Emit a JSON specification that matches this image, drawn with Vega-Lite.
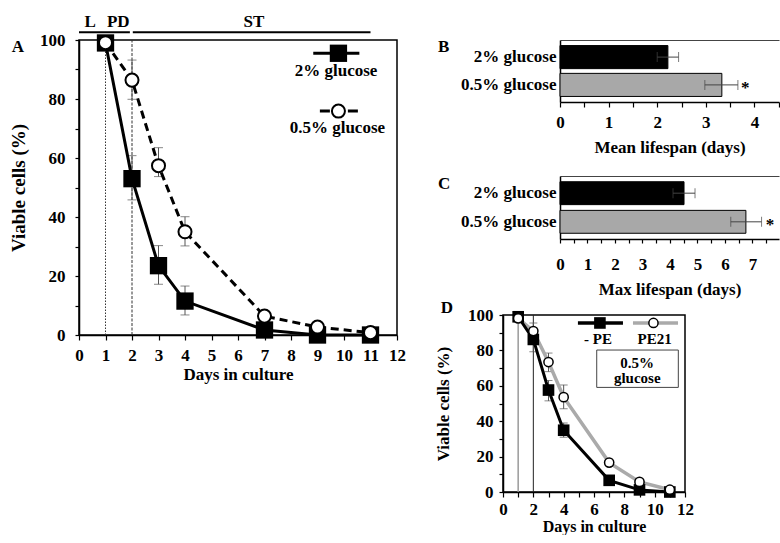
{
 "$schema": "https://vega.github.io/schema/vega-lite/v6.json",
 "background": "white",
 "padding": {"left": 8, "top": 12, "right": 0, "bottom": 0},
 "config": {
  "view": {"stroke": "black", "strokeWidth": 1.5},
  "axis": {"grid": false, "domainColor": "black", "domainWidth": 1.5, "tickColor": "black", "tickWidth": 1.2, "labelColor": "black", "titleColor": "black", "labelFont": "Liberation Serif", "titleFont": "Liberation Serif", "labelFontWeight": "bold", "titleFontWeight": "bold", "labelOverlap": false, "labelFlush": false},
  "text": {"font": "Liberation Serif", "fontWeight": "bold", "color": "black"}
 },
 "datasets": {
  "survA": [
   {"s": "2%", "x": 1, "y": 99}, {"s": "2%", "x": 2, "y": 53}, {"s": "2%", "x": 3, "y": 23.5}, {"s": "2%", "x": 4, "y": 11.5}, {"s": "2%", "x": 7, "y": 1.7}, {"s": "2%", "x": 9, "y": 0}, {"s": "2%", "x": 11, "y": 0},
   {"s": "0.5%", "x": 1, "y": 99.1}, {"s": "0.5%", "x": 2, "y": 86.4}, {"s": "0.5%", "x": 3, "y": 57.4}, {"s": "0.5%", "x": 4, "y": 35}, {"s": "0.5%", "x": 7, "y": 6.4}, {"s": "0.5%", "x": 9, "y": 2.7}, {"s": "0.5%", "x": 11, "y": 0.8}
  ],
  "errA": [
   {"s": "2%", "x": 2, "y": 45.8, "y2": 60.8}, {"s": "2%", "x": 3, "y": 17.2, "y2": 30.3}, {"s": "2%", "x": 4, "y": 6.8, "y2": 16.6},
   {"s": "0.5%", "x": 2, "y": 79.9, "y2": 93.2}, {"s": "0.5%", "x": 3, "y": 53.7, "y2": 63.5}, {"s": "0.5%", "x": 4, "y": 30.2, "y2": 40.1}
  ],
  "vlA": [{"x": 1, "y": 0, "y2": 100, "k": "a"}, {"x": 2, "y": 0, "y2": 100, "k": "b"}],
  "phA": [{"x": 0, "x2": 1.92, "y": 102.6}, {"x": 2.03, "x2": 11, "y": 102.6}],
  "txtA": [
   {"x": 0.42, "y": 106.1, "t": "L"}, {"x": 1.48, "y": 106.1, "t": "PD"}, {"x": 6.6, "y": 106.1, "t": "ST"},
   {"x": 9.7, "y": 89.5, "t": "2% glucose"}, {"x": 9.75, "y": 70.3, "t": "0.5% glucose"}
  ],
  "lblA": [{"x": -2.54, "y": 97.5, "t": "A"}],
  "legA": [{"s": "2%", "x": 8.84, "x2": 10.58, "y": 95.5}, {"s": "0.5%", "x": 9.09, "x2": 10.53, "y": 75.9}],
  "legPtA": [{"s": "2%", "x": 9.79, "y": 95.5}, {"s": "0.5%", "x": 9.79, "y": 75.9}],
  "barB": [
   {"g": "2% glucose", "v": 2.22, "lo": 2.0, "hi": 2.44},
   {"g": "0.5% glucose", "v": 3.33, "lo": 2.98, "hi": 3.66}
  ],
  "txtB": [{"g": "0.5% glucose", "v": 3.81, "t": "*"}],
  "lblB": [{"g": "2% glucose", "v": -2.51, "t": "B"}],
  "barC": [
   {"g": "2% glucose", "v": 4.51, "lo": 4.11, "hi": 4.91},
   {"g": "0.5% glucose", "v": 6.76, "lo": 6.21, "hi": 7.33}
  ],
  "txtC": [{"g": "0.5% glucose", "v": 7.64, "t": "*"}],
  "lblC": [{"g": "2% glucose", "v": -4.44, "t": "C"}],
  "survD": [
   {"s": "PE", "x": 1, "y": 99}, {"s": "PE", "x": 2, "y": 86.2}, {"s": "PE", "x": 3, "y": 57.6}, {"s": "PE", "x": 4, "y": 34.9}, {"s": "PE", "x": 7, "y": 6.6}, {"s": "PE", "x": 9, "y": 1.2}, {"s": "PE", "x": 11, "y": 0},
   {"s": "PE21", "x": 1, "y": 98.1}, {"s": "PE21", "x": 2, "y": 90.9}, {"s": "PE21", "x": 3, "y": 73.4}, {"s": "PE21", "x": 4, "y": 53.6}, {"s": "PE21", "x": 7, "y": 16.6}, {"s": "PE21", "x": 9, "y": 5.7}, {"s": "PE21", "x": 11, "y": 1.3}
  ],
  "errD": [
   {"s": "PE", "x": 2, "y": 79.2, "y2": 92.5}, {"s": "PE", "x": 3, "y": 51.5, "y2": 63}, {"s": "PE", "x": 4, "y": 31, "y2": 39},
   {"s": "PE21", "x": 2, "y": 86.5, "y2": 95.5}, {"s": "PE21", "x": 3, "y": 68, "y2": 78.5}, {"s": "PE21", "x": 4, "y": 47, "y2": 60.5}
  ],
  "vlD": [{"x": 1, "y": 0, "y2": 100, "k": "a"}, {"x": 2, "y": 0, "y2": 100, "k": "b"}],
  "legD": [{"s": "PE", "x": 4.94, "x2": 7.91, "y": 95.5}, {"s": "PE21", "x": 8.57, "x2": 11.54, "y": 95.5}],
  "legPtD": [{"s": "PE", "x": 6.39, "y": 95.5}, {"s": "PE21", "x": 9.92, "y": 95.5}],
  "boxD": [{"x": 6.18, "x2": 11.56, "y": 59.1, "y2": 80.2}],
  "txtD": [
   {"x": 6.26, "y": 86.4, "t": "- PE"}, {"x": 10.0, "y": 86.4, "t": "PE21"},
   {"x": 8.85, "y": 73.1, "t": "0.5%"}, {"x": 8.85, "y": 64.3, "t": "glucose"}
  ],
  "lblD": [{"x": -4.11, "y": 104.2, "t": "D"}]
 },
 "hconcat": [
  {
   "width": 318, "height": 295,
   "encoding": {
    "x": {"field": "x", "type": "quantitative", "scale": {"domain": [0, 12], "nice": false},
          "axis": {"values": [0,1,2,3,4,5,6,7,8,9,10,11,12], "title": "Days in culture", "labelFontSize": 17, "titleFontSize": 17, "tickSize": 5, "labelPadding": 7, "titlePadding": 3}},
    "y": {"field": "y", "type": "quantitative", "scale": {"domain": [0, 100], "nice": false},
          "axis": {"values": [0,10,20,30,40,50,60,70,80,90,100], "labelExpr": "datum.value % 20 == 0 ? datum.label : ''", "title": "Viable cells (%)", "labelFontSize": 17, "titleFontSize": 19, "tickSize": 4, "labelPadding": 10, "titlePadding": 11}}
   },
   "layer": [
    {"data": {"name": "vlA"}, "transform": [{"filter": "datum.k == 'a'"}], "mark": {"type": "rule", "strokeWidth": 1, "color": "#333", "strokeDash": [1.5, 1.5]}, "encoding": {"y2": {"field": "y2"}}},
    {"data": {"name": "vlA"}, "transform": [{"filter": "datum.k == 'b'"}], "mark": {"type": "rule", "strokeWidth": 1, "color": "#333", "strokeDash": [3, 1.5]}, "encoding": {"y2": {"field": "y2"}}},
    {"data": {"name": "phA"}, "mark": {"type": "rule", "strokeWidth": 2, "color": "black"}, "encoding": {"x2": {"field": "x2"}}},
    {"data": {"name": "errA"}, "mark": {"type": "rule", "strokeWidth": 1, "color": "#555"}, "encoding": {"y2": {"field": "y2"}}},
    {"data": {"name": "errA"}, "transform": [{"fold": ["y", "y2"], "as": ["k", "cy"]}],
     "mark": {"type": "tick", "orient": "horizontal", "size": 9, "thickness": 1, "color": "#555"},
     "encoding": {"y": {"field": "cy", "type": "quantitative", "scale": {"domain": [0, 100], "nice": false}}}},
    {"data": {"name": "survA"}, "transform": [{"filter": "datum.s == '2%'"}], "mark": {"type": "line", "strokeWidth": 3, "color": "black"}},
    {"data": {"name": "survA"}, "transform": [{"filter": "datum.s == '0.5%'"}], "mark": {"type": "line", "strokeWidth": 3, "color": "black", "strokeDash": [8, 5]}},
    {"data": {"name": "legA"}, "transform": [{"filter": "datum.s == '2%'"}], "mark": {"type": "rule", "strokeWidth": 3, "color": "black"}, "encoding": {"x2": {"field": "x2"}}},
    {"data": {"name": "legA"}, "transform": [{"filter": "datum.s == '0.5%'"}], "mark": {"type": "rule", "strokeWidth": 3, "color": "black", "strokeDash": [10, 18]}, "encoding": {"x2": {"field": "x2"}}},
    {"data": {"name": "survA"}, "transform": [{"filter": "datum.s == '2%'"}], "mark": {"type": "point", "shape": "square", "filled": true, "size": 300, "color": "black", "opacity": 1}},
    {"data": {"name": "legPtA"}, "transform": [{"filter": "datum.s == '2%'"}], "mark": {"type": "point", "shape": "square", "filled": true, "size": 300, "color": "black", "opacity": 1}},
    {"data": {"name": "survA"}, "transform": [{"filter": "datum.s == '0.5%'"}], "mark": {"type": "point", "shape": "circle", "filled": true, "fill": "white", "stroke": "black", "strokeWidth": 2, "size": 170, "opacity": 1}},
    {"data": {"name": "legPtA"}, "transform": [{"filter": "datum.s == '0.5%'"}], "mark": {"type": "point", "shape": "circle", "filled": true, "fill": "white", "stroke": "black", "strokeWidth": 2, "size": 170, "opacity": 1}},
    {"data": {"name": "txtA"}, "mark": {"type": "text", "fontSize": 17, "baseline": "middle", "align": "center"}, "encoding": {"text": {"field": "t"}}},
    {"data": {"name": "lblA"}, "mark": {"type": "text", "fontSize": 17, "baseline": "middle", "align": "left"}, "encoding": {"text": {"field": "t"}}}
   ]
  },
  {
   "vconcat": [
    {
     "vconcat": [
      {
       "width": 276, "height": 62,
       "view": {"stroke": null},
       "layer": [
        {
         "encoding": {
          "x": {"field": "v", "type": "quantitative", "scale": {"domain": [0, 4.506], "range": [57, 276], "nice": false},
                "axis": {"values": [0,0.5,1,1.5,2,2.5,3,3.5,4,4.5], "labelExpr": "datum.value % 1 == 0 ? format(datum.value, 'd') : ''", "title": "Mean lifespan (days)", "labelFontSize": 17, "titleFontSize": 17, "tickSize": 5, "labelPadding": 7, "titlePadding": 9}},
          "y": {"field": "g", "type": "nominal", "sort": ["2% glucose", "0.5% glucose"], "scale": {"domain": ["2% glucose", "0.5% glucose"], "paddingInner": 0.17, "paddingOuter": 0.2},
                "axis": {"title": null, "ticks": false, "labelFontSize": 17, "labelPadding": 4, "offset": -57}}
         },
         "layer": [
          {"data": {"name": "barB"}, "mark": {"type": "bar", "stroke": "black", "strokeWidth": 1},
           "encoding": {"fill": {"field": "g", "type": "nominal", "scale": {"domain": ["2% glucose", "0.5% glucose"], "range": ["black", "#a8a8a8"]}, "legend": null}}},
          {"data": {"name": "barB"}, "mark": {"type": "rule", "strokeWidth": 1, "color": "#444"},
           "encoding": {"x": {"field": "lo", "type": "quantitative", "scale": {"domain": [0, 4.506], "range": [57, 276], "nice": false}}, "x2": {"field": "hi"}}},
          {"data": {"name": "barB"}, "transform": [{"fold": ["lo", "hi"], "as": ["k", "cx"]}],
           "mark": {"type": "tick", "orient": "vertical", "size": 10, "thickness": 1, "color": "#444"},
           "encoding": {"x": {"field": "cx", "type": "quantitative", "scale": {"domain": [0, 4.506], "range": [57, 276], "nice": false}}}},
          {"data": {"name": "txtB"}, "mark": {"type": "text", "fontSize": 17, "baseline": "middle", "align": "center", "dy": 3}, "encoding": {"text": {"field": "t"}}},
          {"data": {"name": "lblB"}, "mark": {"type": "text", "fontSize": 17, "baseline": "middle", "align": "left", "dy": -10.5}, "encoding": {"text": {"field": "t"}}}
         ]
        },
        {"data": {"name": "barB"}, "mark": {"type": "rule", "opacity": 0},
         "encoding": {"x": {"field": "v", "type": "quantitative", "scale": {"domain": [0, 4.506], "range": [57, 276], "nice": false},
                            "axis": {"orient": "top", "labels": false, "ticks": false, "title": null, "domainColor": "#444", "domainWidth": 1.2}}}}
       ],
       "resolve": {"axis": {"x": "independent"}}
      },
      {
       "width": 276, "height": 63,
       "view": {"stroke": null},
       "layer": [
        {
         "encoding": {
          "x": {"field": "v", "type": "quantitative", "scale": {"domain": [0, 7.964], "range": [57, 276], "nice": false},
                "axis": {"values": [0,0.5,1,1.5,2,2.5,3,3.5,4,4.5,5,5.5,6,6.5,7,7.5], "labelExpr": "datum.value % 1 == 0 ? format(datum.value, 'd') : ''", "title": "Max lifespan (days)", "labelFontSize": 17, "titleFontSize": 17, "tickSize": 4, "labelPadding": 13, "titlePadding": 9}},
          "y": {"field": "g", "type": "nominal", "sort": ["2% glucose", "0.5% glucose"], "scale": {"domain": ["2% glucose", "0.5% glucose"], "paddingInner": 0.2, "paddingOuter": 0.2},
                "axis": {"title": null, "ticks": false, "labelFontSize": 17, "labelPadding": 4, "offset": -57}}
         },
         "layer": [
          {"data": {"name": "barC"}, "mark": {"type": "bar", "stroke": "black", "strokeWidth": 1},
           "encoding": {"fill": {"field": "g", "type": "nominal", "scale": {"domain": ["2% glucose", "0.5% glucose"], "range": ["black", "#a8a8a8"]}, "legend": null}}},
          {"data": {"name": "barC"}, "mark": {"type": "rule", "strokeWidth": 1, "color": "#444"},
           "encoding": {"x": {"field": "lo", "type": "quantitative", "scale": {"domain": [0, 7.964], "range": [57, 276], "nice": false}}, "x2": {"field": "hi"}}},
          {"data": {"name": "barC"}, "transform": [{"fold": ["lo", "hi"], "as": ["k", "cx"]}],
           "mark": {"type": "tick", "orient": "vertical", "size": 10, "thickness": 1, "color": "#444"},
           "encoding": {"x": {"field": "cx", "type": "quantitative", "scale": {"domain": [0, 7.964], "range": [57, 276], "nice": false}}}},
          {"data": {"name": "txtC"}, "mark": {"type": "text", "fontSize": 17, "baseline": "middle", "align": "center", "dy": 3}, "encoding": {"text": {"field": "t"}}},
          {"data": {"name": "lblC"}, "mark": {"type": "text", "fontSize": 17, "baseline": "middle", "align": "left", "dy": -9.5}, "encoding": {"text": {"field": "t"}}}
         ]
        },
        {"data": {"name": "barC"}, "mark": {"type": "rule", "opacity": 0},
         "encoding": {"x": {"field": "v", "type": "quantitative", "scale": {"domain": [0, 7.964], "range": [57, 276], "nice": false},
                            "axis": {"orient": "top", "labels": false, "ticks": false, "title": null, "domainColor": "#444", "domainWidth": 1.2}}}}
       ],
       "resolve": {"axis": {"x": "independent"}}
      }
     ],
     "spacing": 19
    },
    {
     "width": 182, "height": 177,
     "encoding": {
      "x": {"field": "x", "type": "quantitative", "scale": {"domain": [0, 12], "nice": false},
            "axis": {"values": [0,1,2,3,4,5,6,7,8,9,10,11,12], "labelExpr": "datum.value % 2 == 0 ? datum.label : ''", "title": "Days in culture", "labelFontSize": 17, "titleFontSize": 16, "tickSize": 5, "labelPadding": 4, "titlePadding": 1}},
      "y": {"field": "y", "type": "quantitative", "scale": {"domain": [0, 100], "nice": false},
            "axis": {"values": [0,10,20,30,40,50,60,70,80,90,100], "labelExpr": "datum.value % 20 == 0 ? datum.label : ''", "title": "Viable cells (%)", "labelFontSize": 17, "titleFontSize": 17, "tickSize": 4, "labelPadding": 6, "titlePadding": 15}}
     },
     "layer": [
      {"data": {"name": "vlD"}, "transform": [{"filter": "datum.k == 'a'"}], "mark": {"type": "rule", "strokeWidth": 1.5, "color": "#9a9a9a"}, "encoding": {"y2": {"field": "y2"}}},
      {"data": {"name": "vlD"}, "transform": [{"filter": "datum.k == 'b'"}], "mark": {"type": "rule", "strokeWidth": 1, "color": "#222222"}, "encoding": {"y2": {"field": "y2"}}},
      {"data": {"name": "errD"}, "mark": {"type": "rule", "strokeWidth": 1, "color": "#555"}, "encoding": {"y2": {"field": "y2"}}},
      {"data": {"name": "errD"}, "transform": [{"fold": ["y", "y2"], "as": ["k", "cy"]}],
       "mark": {"type": "tick", "orient": "horizontal", "size": 8, "thickness": 1, "color": "#555"},
       "encoding": {"y": {"field": "cy", "type": "quantitative", "scale": {"domain": [0, 100], "nice": false}}}},
      {"data": {"name": "survD"}, "transform": [{"filter": "datum.s == 'PE21'"}], "mark": {"type": "line", "strokeWidth": 3.5, "color": "#aaaaaa"}},
      {"data": {"name": "survD"}, "transform": [{"filter": "datum.s == 'PE'"}], "mark": {"type": "line", "strokeWidth": 3, "color": "black"}},
      {"data": {"name": "legD"}, "transform": [{"filter": "datum.s == 'PE'"}], "mark": {"type": "rule", "strokeWidth": 3.5, "color": "black"}, "encoding": {"x2": {"field": "x2"}}},
      {"data": {"name": "legD"}, "transform": [{"filter": "datum.s == 'PE21'"}], "mark": {"type": "rule", "strokeWidth": 3.5, "color": "#aaaaaa"}, "encoding": {"x2": {"field": "x2"}}},
      {"data": {"name": "boxD"}, "mark": {"type": "rect", "fill": "white", "stroke": "#444", "strokeWidth": 1}, "encoding": {"x2": {"field": "x2"}, "y2": {"field": "y2"}}},
      {"data": {"name": "survD"}, "transform": [{"filter": "datum.s == 'PE'"}], "mark": {"type": "point", "shape": "square", "filled": true, "size": 135, "color": "black", "opacity": 1}},
      {"data": {"name": "legPtD"}, "transform": [{"filter": "datum.s == 'PE'"}], "mark": {"type": "point", "shape": "square", "filled": true, "size": 135, "color": "black", "opacity": 1}},
      {"data": {"name": "survD"}, "transform": [{"filter": "datum.s == 'PE21'"}], "mark": {"type": "point", "shape": "circle", "filled": true, "fill": "white", "stroke": "black", "strokeWidth": 1.5, "size": 85, "opacity": 1}},
      {"data": {"name": "legPtD"}, "transform": [{"filter": "datum.s == 'PE21'"}], "mark": {"type": "point", "shape": "circle", "filled": true, "fill": "white", "stroke": "black", "strokeWidth": 1.5, "size": 85, "opacity": 1}},
      {"data": {"name": "txtD"}, "mark": {"type": "text", "fontSize": 15, "baseline": "middle", "align": "center"}, "encoding": {"text": {"field": "t"}}},
      {"data": {"name": "lblD"}, "mark": {"type": "text", "fontSize": 17, "baseline": "middle", "align": "left"}, "encoding": {"text": {"field": "t"}}}
     ]
    }
   ],
   "spacing": 0
  }
 ],
 "spacing": 26
}
